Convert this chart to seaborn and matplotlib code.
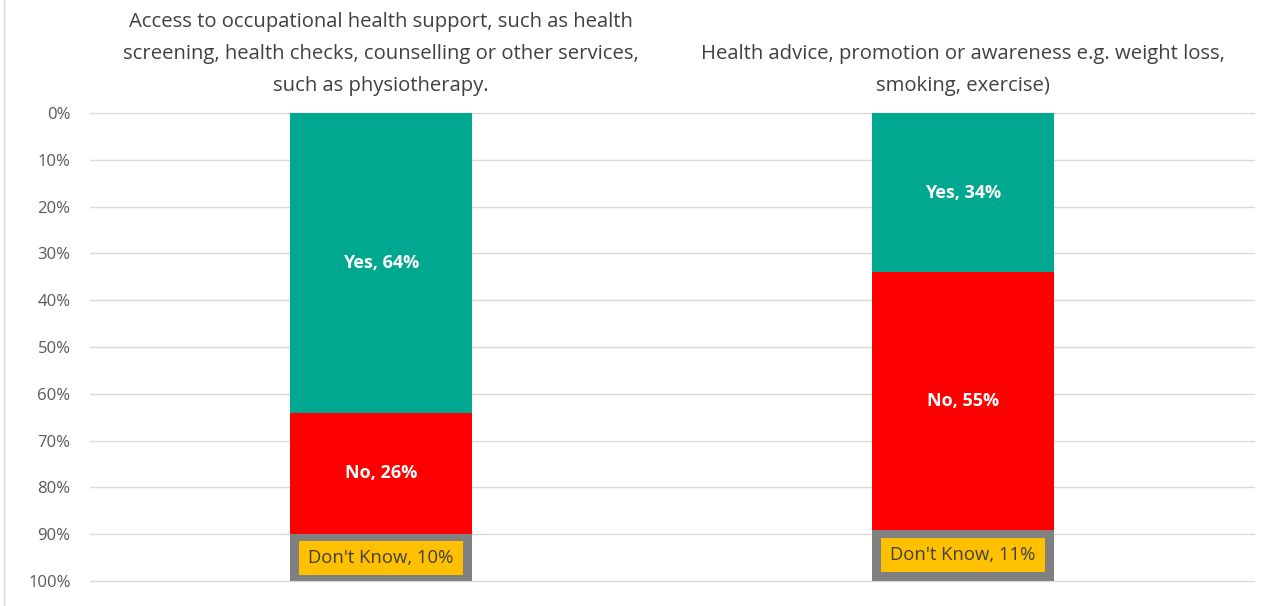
import matplotlib
matplotlib.use("Agg")
import matplotlib.pyplot as plt
import matplotlib.lines as mlines
import matplotlib.patches as mpatches
import seaborn as sns
import pandas as pd

# Survey results per service (percent of respondents)
categories = [
    "Access to occupational health support, such as health\nscreening, health checks, counselling or other services,\nsuch as physiotherapy.",
    "Health advice, promotion or awareness e.g. weight loss,\nsmoking, exercise)",
]
yes_vals = [64, 34]
no_vals = [26, 55]
dk_vals = [10, 11]
y_ticks = [0, 10, 20, 30, 40, 50, 60, 70, 80, 90, 100]
y_tick_labels = [f"{t}%" for t in y_ticks]

C_YES = "#00A88F"
C_NO = "#FF0000"
C_DK = "#808080"
C_DK_BOX = "#FFC000"

sns.set_theme(style="white")
plt.rcParams["font.family"] = ["Open Sans", "DejaVu Sans"]

df = pd.DataFrame({
    "category": categories,
    "yes": yes_vals,
    "no": no_vals,
    "dk": dk_vals,
})
df["yes_no"] = df["yes"] + df["no"]
df["total"] = df["yes_no"] + df["dk"]

fig = plt.figure(figsize=(12.8, 6.06), dpi=100)
ax = fig.add_axes([90 / 1280, 1 - 581 / 606, (1254 - 90) / 1280, (581 - 113) / 606])

bw = 0.313
# Stack by overdrawing cumulative totals, largest first
bar_kw = dict(width=bw, saturation=1, linewidth=0, edgecolor="none", ax=ax)
sns.barplot(data=df, x="category", y="total", color=C_DK, zorder=2, **bar_kw)
sns.barplot(data=df, x="category", y="yes_no", color=C_NO, zorder=3, **bar_kw)
sns.barplot(data=df, x="category", y="yes", color=C_YES, zorder=4, **bar_kw)

ax.set_ylim(100, 0)
ax.set_xlim(-0.5, 1.5)
ax.set_yticks(y_ticks)
ax.set_yticklabels(y_tick_labels, fontsize=12, color="#595959")
ax.tick_params(axis="y", length=0, pad=14)
ax.tick_params(axis="x", length=0, pad=0)
ax.xaxis.tick_top()
ax.set_xticklabels([])
ax.set_xlabel("")
ax.set_ylabel("")
ax.grid(False)
for t in y_ticks:
    ax.axhline(t, color="#D9D9D9", linewidth=1, zorder=0, clip_on=False)
for s in ax.spines.values():
    s.set_visible(False)

# Category headers above the bars
for i, cat in enumerate(categories):
    ax.text(i, -3.6, cat, ha="center", va="bottom", fontsize=14.6,
            color="#404040", linespacing=1.82)

# Segment labels
for i in range(len(categories)):
    y_, n_, d_ = yes_vals[i], no_vals[i], dk_vals[i]
    ax.text(i, y_ / 2, f"Yes, {y_}%", ha="center", va="center",
            fontsize=13, fontweight="bold", color="white", zorder=6)
    ax.text(i, y_ + n_ / 2, f"No, {n_}%", ha="center", va="center",
            fontsize=13, fontweight="bold", color="white", zorder=6)
    mid = y_ + n_ + d_ / 2
    box_w = bw * 0.905
    box_h = 7.3
    ax.add_patch(mpatches.Rectangle((i - box_w / 2, mid - box_h / 2), box_w, box_h,
                                    facecolor=C_DK_BOX, edgecolor="none", zorder=5))
    ax.text(i, mid, f"Don't Know, {d_}%", ha="center", va="center",
            fontsize=13.3, color="#404040", zorder=6)

# Thin chart frame line on the left
fig.add_artist(mlines.Line2D([3.5 / 1280, 3.5 / 1280], [0, 1],
                             transform=fig.transFigure, color="#D9D9D9", linewidth=1))

fig.savefig("out.png", dpi=100)
